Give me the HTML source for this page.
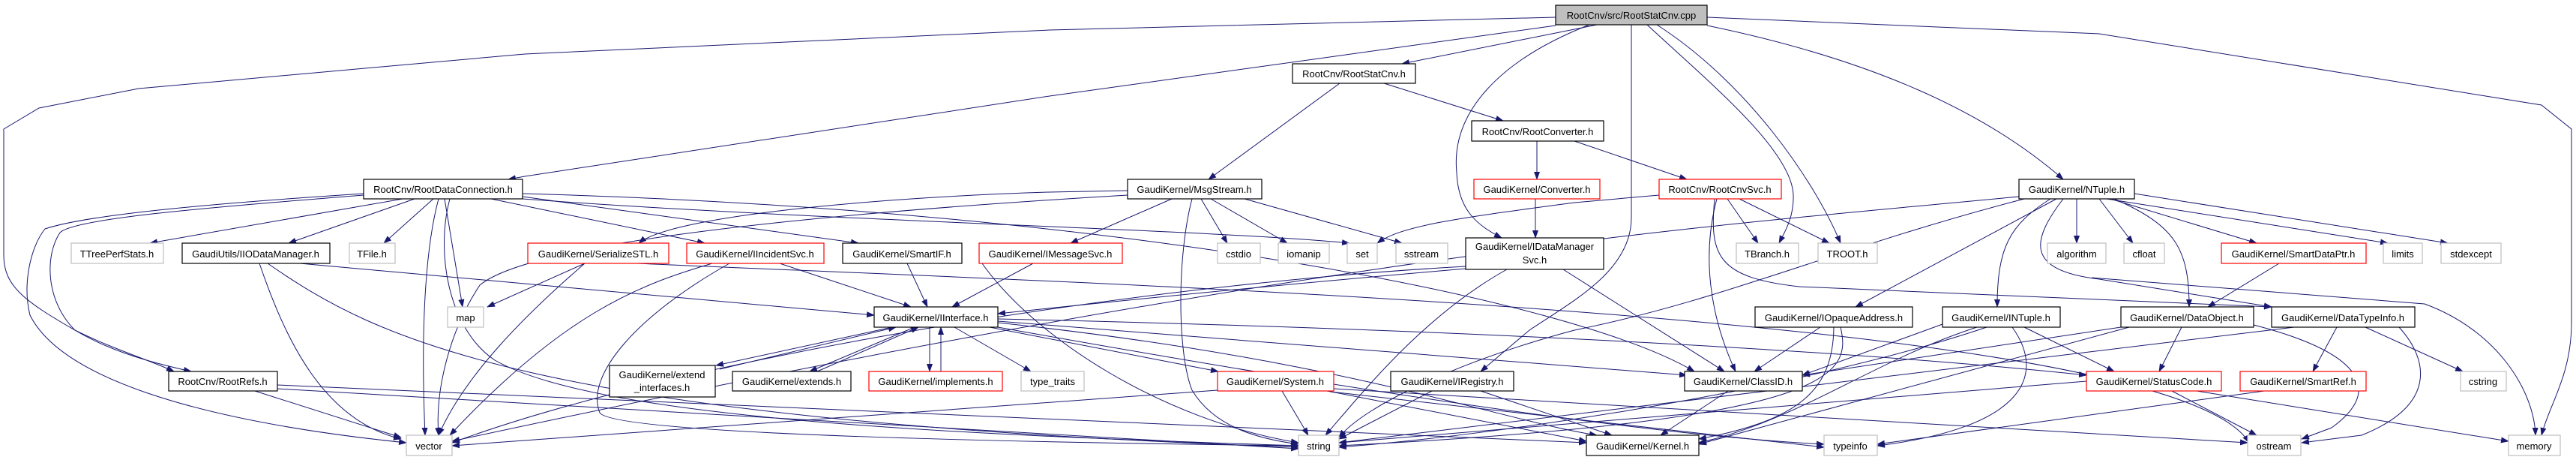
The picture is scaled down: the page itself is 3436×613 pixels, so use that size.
<!DOCTYPE html>
<html><head><meta charset="utf-8"><style>
html,body{margin:0;padding:0;background:#fff}
svg{display:block}
text{font-family:"Liberation Sans",sans-serif;font-size:13px;fill:#000}
.e{fill:none;stroke:#191970;stroke-width:1;marker-end:url(#a)}
.n{fill:#fff;stroke:#000;stroke-width:1.2}
.r{fill:#fff;stroke:#ff0000;stroke-width:1.2}
.g{fill:#fff;stroke:#bfbfbf;stroke-width:1.2}
</style></head><body>
<svg width="3436" height="613" viewBox="0 0 3436 613" xmlns="http://www.w3.org/2000/svg">
<defs><marker id="a" markerWidth="11" markerHeight="8" refX="10" refY="4" orient="auto" markerUnits="userSpaceOnUse"><path d="M0,0 L11,4 L0,8 z" fill="#191970"/></marker></defs>
<g>
<path class="e" d="M2130,33 L1870,85"/>
<path class="e" d="M2075,34 L1400,128 L700,235 L678,239"/>
<path class="e" d="M2075,23 L1400,40 L700,72 L185,118 L52,144 L5,172 L5,340 C5,380 30,400 100,440 C150,465 200,480 232,495"/>
<path class="e" d="M2120,33 C2000,80 1935,150 1943,230 C1945,280 1970,300 2003,317"/>
<path class="e" d="M2176,33 L2176,290 C2176,360 2100,400 2040,440 L1975,495"/>
<path class="e" d="M2197,33 C2280,110 2390,200 2392,260 C2393,290 2380,310 2373,324"/>
<path class="e" d="M2210,33 C2330,110 2420,240 2455,324"/>
<path class="e" d="M2277,34 C2500,80 2650,150 2752,239"/>
<path class="e" d="M2277,23 L2800,45 L3390,140 L3430,172 L3430,430 C3430,500 3400,540 3390,580"/>
<path class="e" d="M1787,111 L1612,239"/>
<path class="e" d="M1846,111 L2005,161"/>
<path class="e" d="M2050,188 L2050,239"/>
<path class="e" d="M2100,188 L2250,239"/>
<path class="e" d="M2048,265 L2048,317"/>
<path class="e" d="M2213,260 L2100,270 C1950,290 1870,300 1837,324"/>
<path class="e" d="M2304,265 L2345,324"/>
<path class="e" d="M2320,265 L2440,324"/>
<path class="e" d="M2290,265 C2270,340 2280,420 2315,495"/>
<path class="e" d="M2287,265 C2280,340 2290,370 2400,382 L3030,409"/>
<path class="e" d="M1563,265 L1428,324"/>
<path class="e" d="M1602,265 L1637,324"/>
<path class="e" d="M1615,265 L1717,324"/>
<path class="e" d="M1660,265 L1870,324"/>
<path class="e" d="M1590,265 C1570,340 1570,470 1590,520 C1620,570 1680,585 1732,592"/>
<path class="e" d="M1504,254 L1400,256 C1200,262 900,285 852,324"/>
<path class="e" d="M1504,260 C1000,290 700,330 640,380 C600,440 580,520 585,580"/>
<path class="e" d="M537,265 L200,324"/>
<path class="e" d="M553,265 L385,324"/>
<path class="e" d="M578,265 L512,324"/>
<path class="e" d="M593,265 L617,409"/>
<path class="e" d="M585,265 C570,320 560,420 567,580"/>
<path class="e" d="M485,260 C300,275 100,290 80,310 C60,340 60,400 100,440 C150,470 210,485 255,495"/>
<path class="e" d="M485,258 C300,270 120,285 60,305 C40,330 30,380 40,420 C80,500 250,560 542,590"/>
<path class="e" d="M655,265 L940,324"/>
<path class="e" d="M697,262 L1145,324"/>
<path class="e" d="M697,265 C1100,295 1600,305 1800,324"/>
<path class="e" d="M697,258 C1500,280 2100,400 2260,495"/>
<path class="e" d="M600,265 C580,340 600,440 660,480 C800,560 1300,580 1732,594"/>
<path class="e" d="M400,351 L1166,420"/>
<path class="e" d="M346,351 C380,450 430,560 535,585"/>
<path class="e" d="M357,351 C500,450 700,560 1732,596"/>
<path class="e" d="M340,521 L535,583"/>
<path class="e" d="M370,513 L2116,590"/>
<path class="e" d="M370,518 L1732,598"/>
<path class="e" d="M780,351 L650,409"/>
<path class="e" d="M780,351 C700,420 620,500 585,580"/>
<path class="e" d="M850,351 C1500,380 2900,420 3000,590"/>
<path class="e" d="M1040,351 L1215,409"/>
<path class="e" d="M950,351 C850,380 750,420 600,580"/>
<path class="e" d="M973,351 C850,420 780,500 800,550 C820,580 1400,590 1732,594"/>
<path class="e" d="M1210,351 L1237,409"/>
<path class="e" d="M1378,351 L1270,409"/>
<path class="e" d="M1310,351 C1380,450 1550,560 1732,590"/>
<path class="e" d="M1955,358 C1700,380 1500,400 1331,418"/>
<path class="e" d="M2010,359 C1900,420 1820,520 1768,580"/>
<path class="e" d="M2085,359 L2300,495"/>
<path class="e" d="M1955,355 C1500,380 900,480 603,590"/>
<path class="e" d="M1190,436 L955,487"/>
<path class="e" d="M960,492 L1195,436"/>
<path class="e" d="M1220,436 L1080,495"/>
<path class="e" d="M1090,495 L1225,436"/>
<path class="e" d="M1240,436 L1240,495"/>
<path class="e" d="M1255,495 L1255,436"/>
<path class="e" d="M1273,436 L1375,495"/>
<path class="e" d="M1320,436 L1625,495"/>
<path class="e" d="M1331,428 L2250,500"/>
<path class="e" d="M1331,425 C2000,440 2500,470 2783,500"/>
<path class="e" d="M1331,430 C1800,480 2000,560 2130,580"/>
<path class="e" d="M1331,436 C1800,520 2200,580 2433,592"/>
<path class="e" d="M1710,521 L1745,580"/>
<path class="e" d="M1770,521 L2116,588"/>
<path class="e" d="M1775,522 L2433,596"/>
<path class="e" d="M1624,520 L603,594"/>
<path class="e" d="M1779,518 L2998,590"/>
<path class="e" d="M1910,521 L1786,585"/>
<path class="e" d="M1975,521 L2150,580"/>
<path class="e" d="M2305,521 L2215,580"/>
<path class="e" d="M2428,436 L2340,495"/>
<path class="e" d="M2446,436 C2445,520 2400,560 2266,585"/>
<path class="e" d="M2455,436 C2470,500 2450,560 1786,594"/>
<path class="e" d="M2637,436 C2500,480 2400,560 2266,590"/>
<path class="e" d="M2650,436 C2400,520 2000,580 1786,596"/>
<path class="e" d="M2684,436 C2730,500 2700,570 2504,594"/>
<path class="e" d="M2700,436 L2820,495"/>
<path class="e" d="M2591,432 L2404,500"/>
<path class="e" d="M2743,265 L2475,409"/>
<path class="e" d="M2735,265 C2680,300 2664,330 2664,409"/>
<path class="e" d="M2770,265 L2770,324"/>
<path class="e" d="M2800,265 L2845,324"/>
<path class="e" d="M2820,265 C2900,300 2920,330 2920,409"/>
<path class="e" d="M2815,265 L3010,324"/>
<path class="e" d="M2810,265 L3185,324"/>
<path class="e" d="M2847,258 L3265,324"/>
<path class="e" d="M2700,265 C2450,330 2300,400 2100,440 C1950,480 1820,540 1786,583"/>
<path class="e" d="M2752,265 C2710,320 2700,360 2800,372 L3030,409"/>
<path class="e" d="M2693,262 C2300,300 1800,330 603,588"/>
<path class="e" d="M3040,351 L2945,409"/>
<path class="e" d="M2910,436 L2880,495"/>
<path class="e" d="M2829,436 L2404,500"/>
<path class="e" d="M2840,436 L2266,592"/>
<path class="e" d="M3006,433 C3150,470 3180,520 3110,570 L3070,585"/>
<path class="e" d="M3117,436 L3085,495"/>
<path class="e" d="M3155,436 L3285,495"/>
<path class="e" d="M3060,436 L1786,590"/>
<path class="e" d="M3200,436 C3240,480 3250,540 3150,580 L3070,590"/>
<path class="e" d="M2897,521 L3010,580"/>
<path class="e" d="M2930,521 L3346,588"/>
<path class="e" d="M2783,508 L1786,590"/>
<path class="e" d="M3020,521 L2504,592"/>
<path class="e" d="M2790,370 L3234,405 C3330,440 3380,520 3382,580"/>
</g>
<g>
<rect x="2075" y="7" width="202" height="26" fill="#bfbfbf" stroke="#000" stroke-width="1.2"/><text x="2176" y="25" text-anchor="middle">RootCnv/src/RootStatCnv.cpp</text>
<rect class="n" x="1724" y="85" width="164" height="26"/><text x="1806" y="103" text-anchor="middle">RootCnv/RootStatCnv.h</text>
<rect class="n" x="1963" y="161" width="176" height="27"/><text x="2051" y="180" text-anchor="middle">RootCnv/RootConverter.h</text>
<rect class="n" x="485" y="239" width="212" height="26"/><text x="591" y="257" text-anchor="middle">RootCnv/RootDataConnection.h</text>
<rect class="n" x="1504" y="239" width="179" height="26"/><text x="1593" y="257" text-anchor="middle">GaudiKernel/MsgStream.h</text>
<rect class="r" x="1966" y="239" width="168" height="26"/><text x="2050" y="257" text-anchor="middle">GaudiKernel/Converter.h</text>
<rect class="r" x="2213" y="239" width="163" height="26"/><text x="2294" y="257" text-anchor="middle">RootCnv/RootCnvSvc.h</text>
<rect class="n" x="2693" y="239" width="154" height="26"/><text x="2770" y="257" text-anchor="middle">GaudiKernel/NTuple.h</text>
<rect class="g" x="95" y="324" width="123" height="27"/><text x="156" y="343" text-anchor="middle">TTreePerfStats.h</text>
<rect class="n" x="243" y="324" width="197" height="27"/><text x="341" y="343" text-anchor="middle">GaudiUtils/IIODataManager.h</text>
<rect class="g" x="466" y="324" width="61" height="27"/><text x="496" y="343" text-anchor="middle">TFile.h</text>
<rect class="r" x="704" y="324" width="188" height="27"/><text x="798" y="343" text-anchor="middle">GaudiKernel/SerializeSTL.h</text>
<rect class="r" x="916" y="324" width="183" height="27"/><text x="1007" y="343" text-anchor="middle">GaudiKernel/IIncidentSvc.h</text>
<rect class="n" x="1124" y="324" width="159" height="27"/><text x="1203" y="343" text-anchor="middle">GaudiKernel/SmartIF.h</text>
<rect class="r" x="1306" y="324" width="191" height="27"/><text x="1401" y="343" text-anchor="middle">GaudiKernel/IMessageSvc.h</text>
<rect class="g" x="1624" y="324" width="57" height="27"/><text x="1652" y="343" text-anchor="middle">cstdio</text>
<rect class="g" x="1705" y="324" width="68" height="27"/><text x="1739" y="343" text-anchor="middle">iomanip</text>
<rect class="g" x="1797" y="324" width="40" height="27"/><text x="1817" y="343" text-anchor="middle">set</text>
<rect class="g" x="1862" y="324" width="69" height="27"/><text x="1896" y="343" text-anchor="middle">sstream</text>
<rect class="n" x="1955" y="317" width="184" height="42"/><text x="2047" y="333" text-anchor="middle">GaudiKernel/IDataManager</text><text x="2047" y="351" text-anchor="middle">Svc.h</text>
<rect class="g" x="2316" y="324" width="83" height="27"/><text x="2357" y="343" text-anchor="middle">TBranch.h</text>
<rect class="g" x="2425" y="324" width="79" height="27"/><text x="2464" y="343" text-anchor="middle">TROOT.h</text>
<rect class="g" x="2731" y="324" width="78" height="27"/><text x="2770" y="343" text-anchor="middle">algorithm</text>
<rect class="g" x="2833" y="324" width="54" height="27"/><text x="2860" y="343" text-anchor="middle">cfloat</text>
<rect class="r" x="2963" y="324" width="193" height="27"/><text x="3059" y="343" text-anchor="middle">GaudiKernel/SmartDataPtr.h</text>
<rect class="g" x="3179" y="324" width="52" height="27"/><text x="3205" y="343" text-anchor="middle">limits</text>
<rect class="g" x="3256" y="324" width="80" height="27"/><text x="3296" y="343" text-anchor="middle">stdexcept</text>
<rect class="g" x="597" y="409" width="48" height="27"/><text x="621" y="428" text-anchor="middle">map</text>
<rect class="n" x="1166" y="409" width="165" height="27"/><text x="1248" y="428" text-anchor="middle">GaudiKernel/IInterface.h</text>
<rect class="n" x="2341" y="409" width="210" height="27"/><text x="2446" y="428" text-anchor="middle">GaudiKernel/IOpaqueAddress.h</text>
<rect class="n" x="2591" y="409" width="157" height="27"/><text x="2669" y="428" text-anchor="middle">GaudiKernel/INTuple.h</text>
<rect class="n" x="2829" y="409" width="177" height="27"/><text x="2917" y="428" text-anchor="middle">GaudiKernel/DataObject.h</text>
<rect class="n" x="3030" y="409" width="191" height="27"/><text x="3125" y="428" text-anchor="middle">GaudiKernel/DataTypeInfo.h</text>
<rect class="n" x="225" y="495" width="145" height="26"/><text x="297" y="513" text-anchor="middle">RootCnv/RootRefs.h</text>
<rect class="n" x="813" y="487" width="141" height="42"/><text x="883" y="504" text-anchor="middle">GaudiKernel/extend</text><text x="883" y="521" text-anchor="middle">_interfaces.h</text>
<rect class="n" x="977" y="495" width="158" height="26"/><text x="1056" y="513" text-anchor="middle">GaudiKernel/extends.h</text>
<rect class="r" x="1159" y="495" width="178" height="26"/><text x="1248" y="513" text-anchor="middle">GaudiKernel/implements.h</text>
<rect class="g" x="1362" y="495" width="84" height="26"/><text x="1404" y="513" text-anchor="middle">type_traits</text>
<rect class="r" x="1624" y="495" width="155" height="26"/><text x="1701" y="513" text-anchor="middle">GaudiKernel/System.h</text>
<rect class="n" x="1855" y="495" width="164" height="26"/><text x="1937" y="513" text-anchor="middle">GaudiKernel/IRegistry.h</text>
<rect class="n" x="2247" y="495" width="157" height="26"/><text x="2325" y="513" text-anchor="middle">GaudiKernel/ClassID.h</text>
<rect class="r" x="2783" y="495" width="180" height="26"/><text x="2873" y="513" text-anchor="middle">GaudiKernel/StatusCode.h</text>
<rect class="r" x="2988" y="495" width="168" height="26"/><text x="3072" y="513" text-anchor="middle">GaudiKernel/SmartRef.h</text>
<rect class="g" x="3282" y="495" width="61" height="26"/><text x="3312" y="513" text-anchor="middle">cstring</text>
<rect class="g" x="542" y="580" width="61" height="27"/><text x="572" y="599" text-anchor="middle">vector</text>
<rect class="g" x="1732" y="580" width="54" height="27"/><text x="1759" y="599" text-anchor="middle">string</text>
<rect class="n" x="2116" y="580" width="150" height="27"/><text x="2191" y="599" text-anchor="middle">GaudiKernel/Kernel.h</text>
<rect class="g" x="2433" y="580" width="71" height="27"/><text x="2468" y="599" text-anchor="middle">typeinfo</text>
<rect class="g" x="2998" y="580" width="71" height="27"/><text x="3033" y="599" text-anchor="middle">ostream</text>
<rect class="g" x="3346" y="580" width="69" height="27"/><text x="3380" y="599" text-anchor="middle">memory</text>
</g>
</svg>
</body></html>
